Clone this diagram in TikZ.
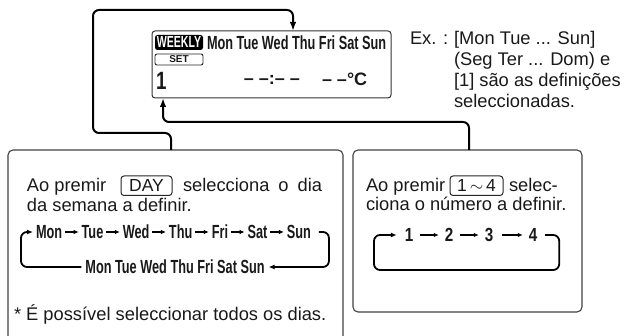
\documentclass[tikz,border=0pt]{standalone}
\usepackage{fontspec}
\setmainfont{Liberation Sans}
\usetikzlibrary{arrows.meta,positioning}
\newcommand{\cnd}[2][0.67]{\scalebox{#1}[1]{\bfseries #2}}
\begin{document}
\begin{tikzpicture}[x=1pt,y=-1pt,
  every node/.style={inner sep=0pt, outer sep=0pt, text=black!90},
  txt/.style={font=\fontsize{18.3}{21}\selectfont, anchor=base west},
  panel/.style={draw=black!75, line width=1.1pt, rounded corners=5pt, anchor=north west},
  conn/.style={draw=black, line width=2pt, rounded corners=6pt, -{Latex[length=9pt,width=6.5pt]}},
  loopline/.style={draw=black, line width=1.8pt, rounded corners=6pt},
  loophead/.style={-{Latex[length=6pt,width=5pt]}},
  small/.style={draw=black, line width=1.3pt, -{Latex[length=5pt,width=4.5pt]}, shorten >=3pt, shorten <=3pt},
  day/.style={font=\fontsize{19}{19}\selectfont, text height=13.6pt, text depth=0pt},
  num/.style={font=\fontsize{19}{19}\selectfont, text height=13.6pt, text depth=0pt},
  key/.style={draw=black!85, line width=1pt, rounded corners=3pt, font=\fontsize{17.5}{17.5}\selectfont,
    text height=12.5pt, text depth=0pt, inner ysep=3.5pt, anchor=base west}
]
\useasboundingbox (0,0) rectangle (624,336);

% display
\node[draw=black!80, line width=1pt, rounded corners=3pt, anchor=north west,
  minimum width=239pt, minimum height=67pt] (disp) at (152,31) {};
\node[fill=black, rounded corners=2.5pt, minimum width=48pt, minimum height=15pt,
  anchor=north west, font=\fontsize{16}{16}\selectfont] (wk) at (155,35) {\textcolor{white}{\cnd[0.66]{WEEKLY}}};
\node[anchor=base west, font=\fontsize{19}{19}\selectfont] (ddays) at (207,50) {\cnd{Mon Tue Wed Thu Fri Sat Sun}};
\node[draw=black!85, rounded corners=2pt, line width=0.9pt, minimum width=48pt, minimum height=11pt,
  anchor=north west, font=\bfseries\fontsize{10}{10}\selectfont] (set) at (155,54) {SET};
\node[anchor=base west, font=\fontsize{25}{25}\selectfont] (one) at (156,90) {\cnd[0.75]{1}};
\node[anchor=base, font=\bfseries\fontsize{18}{18}\selectfont] (time) at (272,85) {– –:– –};
\node[anchor=base west, font=\bfseries\fontsize{18}{18}\selectfont] (temp) at (322,86) {– –°C};

% example text
\node[txt] (ex) at (410,45) {Ex. :};
\node[txt] (ex1) at (454,45) {[Mon Tue ... Sun]};
\node[txt] (ex2) at (454,66) {(Seg Ter ... Dom) e};
\node[txt] (ex3) at (454,87) {[1] são as definições};
\node[txt] (ex4) at (454,108) {seleccionadas.};

% panels
\node[panel, minimum width=335pt, minimum height=200pt] (lbox) at (8,150) {};
\node[panel, minimum width=229pt, minimum height=162pt] (rbox) at (353,150) {};

% connectors to display
\draw[conn] ([xshift=163pt]lbox.north west) -- ++(0,-17) -| (93,10) -| ([xshift=141pt]disp.north west);
\draw[conn] ([xshift=116pt]rbox.north west) -- ++(0,-28) -| ([xshift=11pt]disp.south west);

% left panel
\node[txt] (l1a) at (27,192) {Ao premir};
\node[key, minimum width=51pt] (daykey) at (121,192) {DAY};
\node[txt] (l1b) at (183,192) {selecciona\hspace{9pt}o\hspace{9pt}dia};
\node[txt] (l2) at (27,212) {da semana a definir.};

\node[day, anchor=west] (mon) at (36,232) {\cnd{Mon}};
\node[day, right=19.5pt of mon] (tue) {\cnd{Tue}};
\node[day, right=19.5pt of tue] (wed) {\cnd{Wed}};
\node[day, right=19.5pt of wed] (thu) {\cnd{Thu}};
\node[day, right=19.5pt of thu] (fri) {\cnd{Fri}};
\node[day, right=19.5pt of fri] (sat) {\cnd{Sat}};
\node[day, right=19.5pt of sat] (sun) {\cnd{Sun}};
\draw[small] (mon) -- (tue);
\draw[small] (tue) -- (wed);
\draw[small] (wed) -- (thu);
\draw[small] (thu) -- (fri);
\draw[small] (fri) -- (sat);
\draw[small] (sat) -- (sun);
\node[day] (all) at (175,267) {\cnd{Mon Tue Wed Thu Fri Sat Sun}};
\draw[loopline, loophead] ([xshift=-4pt]all.west) -| ([xshift=-15pt]mon.west) -- ([xshift=-3pt]mon.west);
\draw[loopline, loophead] ([xshift=8pt]sun.east) -- ([xshift=18pt]sun.east) |- ([xshift=4pt]all.east);

\node[txt] (note) at (14,321) {* É possível seleccionar todos os dias.};

% right panel
\node[txt] (r1a) at (366,192) {Ao premir};
\node[key, minimum width=53pt] (numkey) at (450,192) {1\,$\sim$\,4};
\node[txt] (r1b) at (509,192) {selec-};
\node[txt] (r2) at (366,211) {ciona o número a definir.};

\node[num] (n1) at (409,235) {\cnd[0.8]{1}};
\node[num] (n2) at (449,235) {\cnd[0.8]{2}};
\node[num] (n3) at (489,235) {\cnd[0.8]{3}};
\node[num] (n4) at (533,235) {\cnd[0.8]{4}};
\draw[small, shorten <=7pt, shorten >=6pt] (n1) -- (n2);
\draw[small, shorten <=7pt, shorten >=6pt] (n2) -- (n3);
\draw[small, shorten <=9pt, shorten >=6pt] (n3) -- (n4);
\coordinate (rb) at (374,270);
\draw[loopline, loophead] ([xshift=8pt]n4.east) -- ([xshift=22pt]n4.east) |- (rb) |- ([xshift=-8pt]n1.west);
\end{tikzpicture}
\end{document}
